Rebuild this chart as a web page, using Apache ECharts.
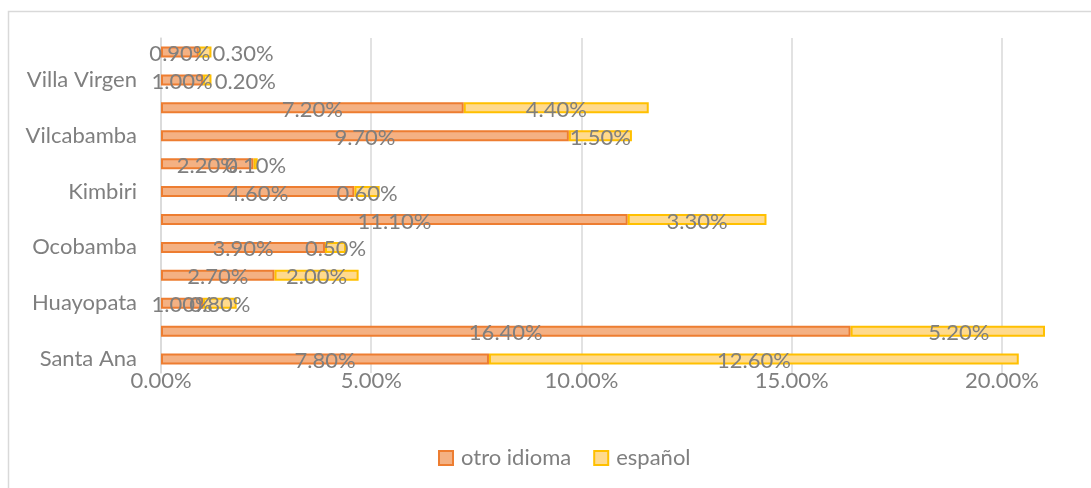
<!DOCTYPE html>
<html>
<head>
<meta charset="utf-8">
<script src="https://cdn.jsdelivr.net/npm/echarts@6/dist/echarts.min.js"></script>
<style>
  html, body { margin: 0; padding: 0; background: #fff; }
  #chart { width: 1091px; height: 488px; }
</style>
</head>
<body>
<div id="chart"></div>
<script>
// distritos (de abajo hacia arriba)
let distritos = ["Santa Ana", "Echarati", "Huayopata", "Maranura", "Ocobamba", "Quellouno",
  "Kimbiri", "Santa Teresa", "Vilcabamba", "Pichari", "Villa Virgen", "Villa Kintiarina"];
let otroIdioma = [7.8, 16.4, 1.0, 2.7, 3.9, 11.1, 4.6, 2.2, 9.7, 7.2, 1.0, 0.9];
let espanol = [12.6, 5.2, 0.8, 2.0, 0.5, 3.3, 0.6, 0.1, 1.5, 4.4, 0.2, 0.3];
let serieNombres = ["otro idioma", "español"];

let fuente = "Lato";
let gris = "#7f7f7f";
let tam = 22;

let myChart = echarts.init(document.getElementById("chart"));

function etiqueta() {
  return {
    show: true,
    position: "inside",
    color: gris,
    fontFamily: fuente,
    fontSize: tam,
    offset: [0, 2],
    formatter: function (p) {
      return p.value.toFixed(2) + "%";
    }
  };
}

// etiquetas corridas como en Excel (barras chicas / barra recortada)
let corrimientos = {1: [11, 2], 10: [38, 2], 11: [38, 2]};
let datosEspanol = espanol.map(function (v, i) {
  if (corrimientos[i]) {
    return {value: v, label: {offset: corrimientos[i]}};
  }
  return v;
});

let option = {
  animation: false,
  textStyle: {fontFamily: fuente},
  graphic: [{
    type: "rect",
    shape: {x: 8.5, y: 11.5, width: 1200, height: 600},
    style: {fill: "none", stroke: "#d9d9d9", lineWidth: 1.5},
    silent: true
  }],
  grid: {left: 161, right: 47, top: 38, bottom: 115},
  legend: {
    bottom: 14,
    left: 433,
    itemWidth: 14,
    itemHeight: 14,
    itemGap: 22,
    icon: "rect",
    textStyle: {color: gris, fontSize: 22, fontFamily: fuente, padding: [0, 0, 0, 3]},
    data: serieNombres
  },
  xAxis: {
    type: "value",
    min: 0,
    max: 21,
    interval: 5,
    axisLine: {show: false},
    axisTick: {show: false},
    axisLabel: {
      color: gris,
      fontSize: tam,
      fontFamily: fuente,
      margin: -3,
      showMaxLabel: false,
      formatter: function (v) {
        return v.toFixed(2) + "%";
      }
    },
    splitLine: {show: true, showMaxLine: false, lineStyle: {color: "#d9d9d9", width: 1.5}}
  },
  yAxis: {
    type: "category",
    data: distritos,
    axisLine: {show: true, lineStyle: {color: "#d9d9d9", width: 1.5}},
    axisTick: {show: false},
    axisLabel: {
      interval: 1,
      color: gris,
      fontSize: tam,
      fontFamily: fuente,
      margin: 24
    }
  },
  series: [{
    name: serieNombres[0],
    type: "bar",
    stack: "total",
    data: otroIdioma,
    barWidth: 11,
    itemStyle: {color: "#f4b183", borderColor: "#ed7d31", borderWidth: 2},
    label: etiqueta()
  }, {
    name: serieNombres[1],
    type: "bar",
    stack: "total",
    data: datosEspanol,
    barWidth: 11,
    itemStyle: {color: "#ffda8e", borderColor: "#ffc000", borderWidth: 2},
    label: etiqueta()
  }]
};

myChart.setOption(option);
window.onresize = myChart.resize;
</script>
</body>
</html>
